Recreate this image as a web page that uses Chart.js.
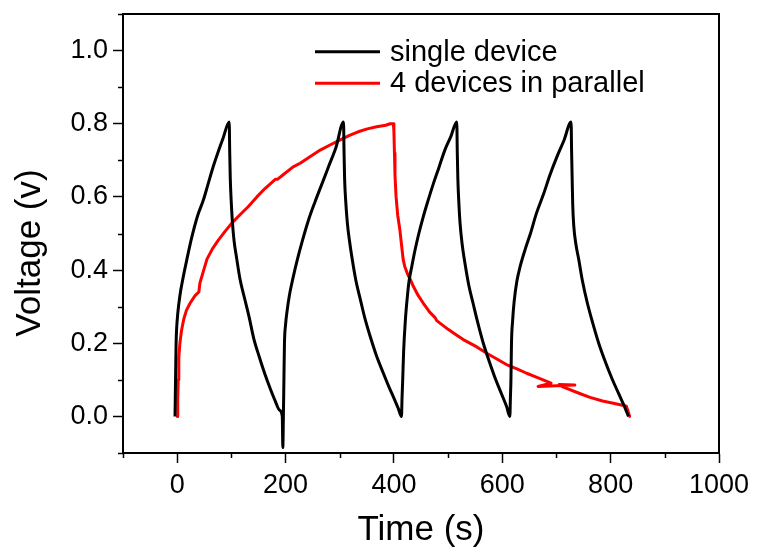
<!DOCTYPE html>
<html><head><meta charset="utf-8">
<script src="https://cdn.jsdelivr.net/npm/chart.js@4.4.1/dist/chart.umd.min.js"></script>
<style>html,body{margin:0;padding:0;background:#fff;}canvas{display:block;}</style>
</head><body>
<canvas id="c" width="757" height="549"></canvas>
<script>
// ---- data ----
const singleTime = [
  -4, -3, -2, -1, 1, 5, 11, 18, 27, 38, 48, 57, 67, 76, 85, 96,
  97, 98, 100, 102, 105, 110, 116, 124, 133, 141, 151, 162, 172, 181, 189, 194, 195, 196,
  197, 198, 200, 203, 207, 214, 222, 231, 242, 254, 267, 280, 293, 307,
  308, 309, 311, 314, 318, 323, 330, 338, 347, 357, 368, 380, 391, 400, 408, 414,
  415, 416, 418, 421, 425, 428, 433, 439, 446, 454, 463, 473, 483, 494, 505, 516,
  517, 518, 520, 522, 526, 531, 538, 546, 555, 565, 576, 588, 599, 608, 614,
  615, 616, 617, 619, 622, 627, 633, 643, 652, 663, 676, 688, 701, 714, 727,
  728, 729, 730, 732, 736, 741, 748, 757, 767, 778, 790, 802, 814, 824, 833
];
const singleVoltage = [
  0, 0.1, 0.2, 0.24, 0.28, 0.33, 0.38, 0.43, 0.49, 0.55, 0.59, 0.635, 0.685, 0.725, 0.762, 0.805,
  0.72, 0.65, 0.58, 0.53, 0.48, 0.43, 0.375, 0.325, 0.27, 0.215, 0.165, 0.115, 0.075, 0.042, 0.017, 0.0, -0.085, 0.0,
  0.1, 0.2, 0.25, 0.29, 0.33, 0.38, 0.43, 0.48, 0.535, 0.585, 0.635, 0.685, 0.735, 0.805,
  0.72, 0.65, 0.59, 0.53, 0.48, 0.43, 0.37, 0.32, 0.265, 0.215, 0.165, 0.12, 0.08, 0.05, 0.022, 0.0,
  0.05, 0.09, 0.18, 0.26, 0.33, 0.37, 0.41, 0.455, 0.5, 0.545, 0.59, 0.637, 0.68, 0.728, 0.765, 0.805,
  0.72, 0.65, 0.58, 0.53, 0.47, 0.42, 0.36, 0.31, 0.255, 0.2, 0.15, 0.1, 0.06, 0.027, 0.0,
  0.05, 0.1, 0.2, 0.26, 0.315, 0.37, 0.41, 0.46, 0.5, 0.555, 0.607, 0.66, 0.71, 0.755, 0.805,
  0.72, 0.65, 0.58, 0.52, 0.47, 0.43, 0.37, 0.31, 0.255, 0.2, 0.15, 0.105, 0.065, 0.032, 0.0
];
const parallelTime = [
  0.5, 1, 2, 3, 5, 8, 12, 17, 24, 33, 40, 42, 48, 55, 65, 76, 88, 100, 115, 131, 147, 162, 175, 181, 185, 195,
  214, 227, 245, 264, 282, 301, 318, 334, 351, 368, 385, 393, 399,
  400, 401, 402, 404, 407, 411, 414, 417, 420, 425, 430, 436, 445, 454, 466, 476, 479, 485, 500, 516, 528,
  553, 572, 590, 610, 627, 645, 664, 690, 666, 734, 705, 713, 744, 762, 785, 805, 824, 829, 832, 835
];
const parallelVoltage = [
  0, 0.05, 0.1, 0.16, 0.2, 0.235, 0.265, 0.29, 0.31, 0.33, 0.34, 0.365, 0.395, 0.43, 0.458, 0.482, 0.505, 0.527, 0.55, 0.573, 0.6, 0.623, 0.64, 0.648, 0.648, 0.66,
  0.682, 0.692, 0.71, 0.728, 0.742, 0.756, 0.768, 0.778, 0.786, 0.792, 0.796, 0.8, 0.8,
  0.78, 0.72, 0.66, 0.6, 0.55, 0.51, 0.47, 0.43, 0.41, 0.39, 0.375, 0.355, 0.33, 0.31, 0.285, 0.27, 0.262, 0.255, 0.238, 0.222, 0.21,
  0.19, 0.172, 0.157, 0.14, 0.13, 0.118, 0.107, 0.091, 0.082, 0.086, 0.087, 0.08, 0.062, 0.052, 0.042, 0.036, 0.03, 0.028, 0.015, 0.0
];
const seriesNames = ['single device', '4 devices in parallel'];
const seriesColors = ['#000000', '#ff0000'];
const xTickLabels = ['0', '200', '400', '600', '800', '1000'];
const yTickLabels = ['0.0', '0.2', '0.4', '0.6', '0.8', '1.0'];
const xTitle = 'Time (s)';
const yTitle = 'Voltage (v)';

const FONT = "'Liberation Sans', Arial, Helvetica, sans-serif";

function toPoints(xs, ys) { return xs.map((x, i) => ({ x: x, y: ys[i] })); }
function xIsMajor(v) { return xTickLabels.includes(String(Math.round(v))); }
function yIsMajor(v) { return yTickLabels.includes((Math.round(v * 10) / 10).toFixed(1)); }

const decorPlugin = {
  id: 'decor',
  afterDraw(chart) {
    const ctx = chart.ctx;
    const a = chart.chartArea;
    const xs = chart.scales.x, ys = chart.scales.y;
    ctx.save();
    ctx.strokeStyle = '#000';
    ctx.lineWidth = 2;
    ctx.beginPath();
    ctx.moveTo(a.left, a.top); ctx.lineTo(a.right, a.top); ctx.lineTo(a.right, a.bottom);
    ctx.stroke();
    ctx.lineWidth = 1.5;
    ctx.beginPath();
    xs.ticks.forEach(t => {
      if (!xIsMajor(t.value)) {
        const p = Math.round(xs.getPixelForValue(t.value)) + 0.5;
        ctx.moveTo(p, a.bottom); ctx.lineTo(p, a.bottom + 5);
      }
    });
    ys.ticks.forEach(t => {
      if (!yIsMajor(t.value)) {
        const p = Math.round(ys.getPixelForValue(t.value)) + 0.5;
        ctx.moveTo(a.left, p); ctx.lineTo(a.left - 5, p);
      }
    });
    ctx.stroke();
    ctx.fillStyle = '#000';
    ctx.font = '35px ' + FONT;
    ctx.textAlign = 'center';
    ctx.textBaseline = 'alphabetic';
    ctx.fillText(xTitle, (a.left + a.right) / 2, 540);
    ctx.save();
    ctx.translate(40, 253);
    ctx.rotate(-Math.PI / 2);
    ctx.fillText(yTitle, 0, 0);
    ctx.restore();
    const rows = [51.7, 83.3];
    ctx.font = '29px ' + FONT;
    ctx.textAlign = 'left';
    ctx.textBaseline = 'middle';
    seriesNames.forEach((name, i) => {
      ctx.strokeStyle = seriesColors[i];
      ctx.lineWidth = 3;
      ctx.beginPath();
      ctx.moveTo(315, rows[i]); ctx.lineTo(380, rows[i]);
      ctx.stroke();
      ctx.fillStyle = '#000';
      ctx.fillText(name, 390, rows[i] + 1);
    });
    ctx.restore();
  }
};

new Chart(document.getElementById('c'), {
  type: 'scatter',
  data: {
    datasets: [
      { label: seriesNames[0], data: toPoints(singleTime, singleVoltage), showLine: true,
        borderColor: seriesColors[0], borderWidth: 3, pointRadius: 0, cubicInterpolationMode: 'monotone', fill: false },
      { label: seriesNames[1], data: toPoints(parallelTime, parallelVoltage), showLine: true,
        borderColor: seriesColors[1], borderWidth: 3, pointRadius: 0, tension: 0, fill: false,
        borderJoinStyle: 'round', borderCapStyle: 'round' }
    ]
  },
  options: {
    responsive: false,
    animation: false,
    events: [],
    layout: { padding: { left: 0, top: 14, right: 38, bottom: 0 } },
    plugins: { legend: { display: false }, tooltip: { enabled: false } },
    scales: {
      x: {
        type: 'linear', min: -100, max: 1000,
        ticks: { stepSize: 100, autoSkip: false, maxRotation: 0, padding: 6, color: '#000',
                 font: { family: FONT, size: 27 },
                 callback: v => xIsMajor(v) ? String(Math.round(v)) : '' },
        grid: { drawOnChartArea: false, drawTicks: true, tickLength: 10, tickWidth: 1.5,
                tickColor: c => (c.tick && xIsMajor(c.tick.value)) ? '#000' : 'rgba(0,0,0,0)' },
        border: { display: true, color: '#000', width: 2 },
        afterFit: s => { s.height = 96; s.paddingLeft = 0; s.paddingRight = 0; s.paddingTop = 0; s.paddingBottom = 0; }
      },
      y: {
        type: 'linear', min: -0.1, max: 1.1,
        ticks: { stepSize: 0.1, autoSkip: false, padding: 5, color: '#000',
                 font: { family: FONT, size: 27 },
                 callback: v => yIsMajor(v) ? (Math.round(v * 10) / 10).toFixed(1) : '' },
        grid: { drawOnChartArea: false, drawTicks: true, tickLength: 10, tickWidth: 1.5,
                tickColor: c => (c.tick && yIsMajor(c.tick.value)) ? '#000' : 'rgba(0,0,0,0)' },
        border: { display: true, color: '#000', width: 2 },
        afterFit: s => { s.width = 123; s.paddingLeft = 0; s.paddingRight = 0; s.paddingTop = 0; s.paddingBottom = 0; }
      }
    }
  },
  plugins: [decorPlugin]
});
</script>
</body></html>
